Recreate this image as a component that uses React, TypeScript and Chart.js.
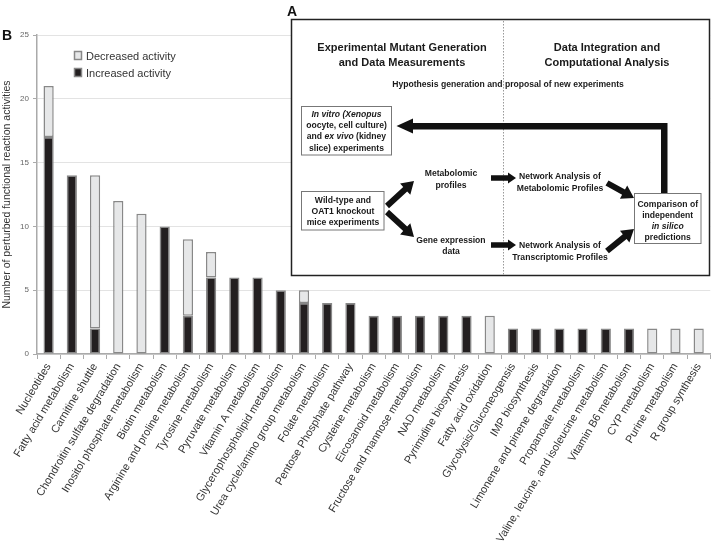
import React, { useEffect, useRef } from "react";
import { Chart, registerables } from "chart.js";
Chart.register(...registerables);

const categories = [
  "Nucleotides",
  "Fatty acid metabolism",
  "Carnitine shuttle",
  "Chondroitin sulfate degradation",
  "Inositol phosphate metabolism",
  "Biotin metabolism",
  "Arginine and proline metabolism",
  "Tyrosine metabolism",
  "Pyruvate metabolism",
  "Vitamin A metabolism",
  "Glycerophospholipid metabolism",
  "Urea cycle/amino group metabolism",
  "Folate metabolism",
  "Pentose Phosphate pathway",
  "Cysteine metabolism",
  "Eicosanoid metabolism",
  "Fructose and mannose metabolism",
  "NAD metabolism",
  "Pyrimidine biosynthesis",
  "Fatty acid oxidation",
  "Glycolysis/Gluconeogensis",
  "IMP biosynthesis",
  "Limonene and pinene degradation",
  "Propanoate metabolism",
  "Valine, leucine, and isoleucine metabolism",
  "Vitamin B6 metabolism",
  "CYP metabolism",
  "Purine metabolism",
  "R group synthesis",
];

const increased = [17, 14, 2, null, null, 10, 3, 6, 6, 6, 5, 4, 4, 4, 3, 3, 3, 3, 3, null, 2, 2, 2, 2, 2, 2, null, null, null];
const decreased = [4, null, 12, 12, 11, null, 6, 2, null, null, null, 1, null, null, null, null, null, null, null, 3, null, null, null, null, null, null, 2, 2, 2];

const yTicks = [0, 5, 10, 15, 20, 25];
const yTitle = "Number of perturbed functional reaction activities";
const legendLabels = ["Decreased activity", "Increased activity"];

const FONT = "'Liberation Sans', Arial, Helvetica, sans-serif";
const INC = "#231f20";
const DEC = "#e6e7e8";
const EDGE = "#888888";

function arrowPts(x1: number, y1: number, x2: number, y2: number, s: number, hw: number, hl: number) {
  const len = Math.hypot(x2 - x1, y2 - y1);
  const dx = (x2 - x1) / len, dy = (y2 - y1) / len;
  const nx = -dy, ny = dx;
  const bx = x2 - dx * hl, by = y2 - dy * hl;
  const p = [
    [x1 + nx * s / 2, y1 + ny * s / 2],
    [bx + nx * s / 2, by + ny * s / 2],
    [bx + nx * hw / 2, by + ny * hw / 2],
    [x2, y2],
    [bx - nx * hw / 2, by - ny * hw / 2],
    [bx - nx * s / 2, by - ny * s / 2],
    [x1 - nx * s / 2, y1 - ny * s / 2],
  ];
  return p.map((q) => q[0].toFixed(1) + "," + q[1].toFixed(1)).join(" ");
}

function Diagram() {
  const t = { fontFamily: FONT, fontWeight: 700 as const, fill: "#1a1a1a", textAnchor: "middle" as const, dominantBaseline: "central" as const };
  const s9 = { ...t, fontSize: 8.6 };
  const s11 = { ...t, fontSize: 11 };
  return (
    <svg width={712} height={544} style={{ position: "absolute", left: 0, top: 0, pointerEvents: "none" }}>
      <text x={2} y={40} fontFamily={FONT} fontWeight={700} fontSize={14} fill="#111">B</text>
      <text x={287} y={16} fontFamily={FONT} fontWeight={700} fontSize={14} fill="#111">A</text>
      {/* legend */}
      <rect x={74.5} y={51.5} width={7} height={8} fill={DEC} stroke={EDGE} strokeWidth={1.5} />
      <rect x={74.5} y={68.5} width={7} height={8} fill={INC} stroke={EDGE} strokeWidth={1.5} />
      <text x={86} y={56} fontFamily={FONT} fontSize={11} fill="#333" dominantBaseline="central">{legendLabels[0]}</text>
      <text x={86} y={73} fontFamily={FONT} fontSize={11} fill="#333" dominantBaseline="central">{legendLabels[1]}</text>
      {/* panel A */}
      <rect x={291.5} y={19.5} width={418} height={256} fill="#fff" stroke="#222" strokeWidth={1.5} />
      <line x1={503.5} y1={21} x2={503.5} y2={275} stroke="#999" strokeWidth={1} strokeDasharray="1.5,1.5" />
      <text x={402} y={47} {...s11}>Experimental Mutant Generation</text>
      <text x={402} y={62} {...s11}>and Data Measurements</text>
      <text x={607} y={47} {...s11}>Data Integration and</text>
      <text x={607} y={62} {...s11}>Computational Analysis</text>
      <text x={508} y={83.5} {...s9}>Hypothesis generation and proposal of new experiments</text>

      <rect x={301.5} y={106.5} width={90} height={48.5} fill="#fff" stroke="#777" strokeWidth={1} />
      <text x={346.5} y={113.5} {...s9}><tspan fontStyle="italic">In vitro (Xenopus</tspan></text>
      <text x={346.5} y={125} {...s9}>oocyte, cell culture)</text>
      <text x={346.5} y={136.3} {...s9}>and <tspan fontStyle="italic">ex vivo</tspan> (kidney</text>
      <text x={346.5} y={147.5} {...s9}>slice) experiments</text>

      <rect x={301.5} y={191.5} width={82.5} height={38.5} fill="#fff" stroke="#777" strokeWidth={1} />
      <text x={343} y={200} {...s9}>Wild-type and</text>
      <text x={343} y={211} {...s9}>OAT1 knockout</text>
      <text x={343} y={222} {...s9}>mice experiments</text>

      <text x={451} y={173} {...s9}>Metabolomic</text>
      <text x={451} y={185} {...s9}>profiles</text>
      <text x={451} y={239.5} {...s9}>Gene expression</text>
      <text x={451} y={251} {...s9}>data</text>

      <text x={560} y={176} {...s9}>Network Analysis of</text>
      <text x={560} y={188} {...s9}>Metabolomic Profiles</text>
      <text x={560} y={245} {...s9}>Network Analysis of</text>
      <text x={560} y={256.5} {...s9}>Transcriptomic Profiles</text>

      <rect x={634.5} y={193.5} width={66.5} height={50} fill="#fff" stroke="#777" strokeWidth={1} />
      <text x={667.7} y={203.5} {...s9}>Comparison of</text>
      <text x={667.7} y={214.5} {...s9}>independent</text>
      <text x={667.7} y={225.5} {...s9}><tspan fontStyle="italic">in silico</tspan></text>
      <text x={667.7} y={236.5} {...s9}>predictions</text>

      <g fill="#111">
        <polygon points={arrowPts(387, 206, 414, 181, 6, 15, 12)} />
        <polygon points={arrowPts(387, 212, 414, 237, 6, 15, 12)} />
        <polygon points={arrowPts(491, 178, 516, 178, 5.5, 11, 8)} />
        <polygon points={arrowPts(491, 245, 516, 245, 5.5, 11, 8)} />
        <polygon points={arrowPts(607, 183, 634, 198, 6, 15, 12)} />
        <polygon points={arrowPts(607, 251, 634, 229, 6, 15, 12)} />
        <polygon points="667.5,193 667.5,123 413,123 413,118.5 396.5,126 413,133.5 413,129.5 661,129.5 661,193" />
      </g>
    </svg>
  );
}

export default function App() {
  const ref = useRef<HTMLCanvasElement | null>(null);
  useEffect(() => {
    if (!ref.current) return;
    const chart = new Chart(ref.current, {
      type: "bar",
      data: {
        labels: categories,
        datasets: [
          { label: legendLabels[1], data: increased as any, backgroundColor: INC, borderColor: EDGE, borderWidth: 1.5, borderSkipped: false },
          { label: legendLabels[0], data: decreased as any, backgroundColor: DEC, borderColor: EDGE, borderWidth: 1.5, borderSkipped: false },
        ],
      },
      options: {
        responsive: false,
        animation: false,
        devicePixelRatio: 1,
        layout: { padding: { top: 35, left: 0, right: 1, bottom: 0 } },
        plugins: { legend: { display: false }, tooltip: { enabled: false } },
        datasets: { bar: { categoryPercentage: 1, barPercentage: 0.44 } },
        scales: {
          x: {
            stacked: true,
            grid: { display: true, drawOnChartArea: false, drawTicks: true, tickLength: 5, tickColor: "#aaa", offset: true },
            border: { color: "#aaa", width: 1.5 },
            ticks: { autoSkip: false, minRotation: 59, maxRotation: 59, padding: 2, color: "#333", font: { family: FONT, size: 11 } },
            afterFit: (s: any) => { s.height = 190; },
          },
          y: {
            stacked: true,
            min: 0,
            max: 25,
            afterBuildTicks: (s: any) => { s.ticks = yTicks.map((v) => ({ value: v })); },
            ticks: { color: "#666", font: { family: FONT, size: 8 }, padding: 4 },
            grid: { color: "#e3e3e3", tickColor: "#aaa", tickLength: 4 },
            border: { color: "#aaa", width: 1.5 },
            title: { display: true, text: yTitle, color: "#333", font: { family: FONT, size: 10.5 }, padding: { top: 1, bottom: 0 } },
            afterFit: (s: any) => { s.width = 37; },
          },
        },
      },
    });
    return () => chart.destroy();
  }, []);
  return (
    <div style={{ position: "fixed", left: 0, top: 0, width: 712, height: 544, background: "#fff" }}>
      <canvas ref={ref} width={712} height={544} style={{ position: "absolute", left: 0, top: 0, width: 712, height: 544 }} />
      <Diagram />
    </div>
  );
}
